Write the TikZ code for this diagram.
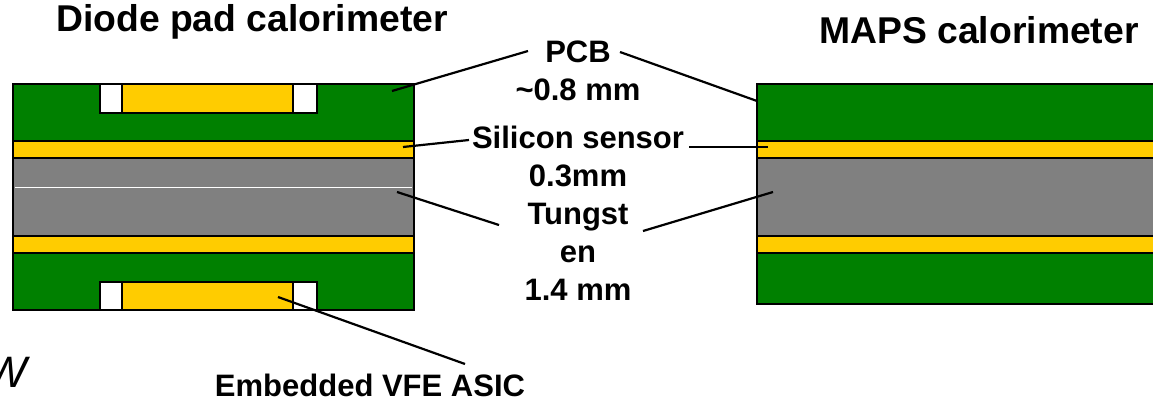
\documentclass[tikz,border=0pt]{standalone}
\usepackage{fontspec}
\setmainfont{Liberation Sans}
\definecolor{pcbgreen}{HTML}{008000}
\definecolor{siyellow}{HTML}{FFCC00}
\definecolor{wgray}{HTML}{808080}
\begin{document}
\begin{tikzpicture}[x=1pt,y=-1pt,
  layer/.style={draw=black,line width=2.4pt},
  lbl/.style={font=\fontsize{31}{38}\selectfont\bfseries,align=center,inner sep=0pt},
  ttl/.style={font=\fontsize{37.3}{44}\selectfont\bfseries,inner sep=0pt},
  leader/.style={line width=2.2pt,draw=black}]
\useasboundingbox (0,0) rectangle (1153,401);
% ---------- left stack (diode pad) ----------
\fill[pcbgreen,layer] (13,84) rectangle (414,141);
\fill[siyellow,layer] (13,141) rectangle (414,158);
\fill[wgray,layer] (13,158) rectangle (414,236);
\draw[white,line width=1pt] (15,187) -- (412,187);
\fill[siyellow,layer] (13,236) rectangle (414,253);
\fill[pcbgreen,layer] (13,253) rectangle (414,310);
% top chip
\fill[white,layer] (100,84) rectangle (122,113);
\fill[siyellow,layer] (122,84) rectangle (293,113);
\fill[white,layer] (293,84) rectangle (317,113);
% bottom chip
\fill[white,layer] (100,282) rectangle (122,310);
\fill[siyellow,layer] (122,282) rectangle (293,310);
\fill[white,layer] (293,282) rectangle (317,310);
% ---------- right stack (MAPS) ----------
\fill[pcbgreen,layer] (757,84) rectangle (1175,141);
\fill[siyellow,layer] (757,141) rectangle (1175,158);
\fill[wgray,layer] (757,158) rectangle (1175,236);
\fill[siyellow,layer] (757,236) rectangle (1175,253);
\fill[pcbgreen,layer] (757,253) rectangle (1175,304);
% ---------- titles ----------
\node[ttl] (tdiode) at (252,22) {Diode pad calorimeter};
\node[ttl] (tmaps) at (979,30) {MAPS calorimeter};
% ---------- middle labels ----------
\node[lbl] (pcb) at (578,71) {PCB\\\textasciitilde0.8 mm};
\node[lbl] (si) at (578,156) {Silicon sensor\\0.3mm};
\node[lbl] (tung) at (578,252) {Tungst\\en\\1.4 mm};
\node[lbl] (asic) at (370,385) {Embedded VFE ASIC};
\node[font=\fontsize{44}{50}\selectfont\itshape,inner sep=0pt] (w) at (6,372) {W};
% ---------- leader end points ----------
\coordinate (pcbL) at (528,51);
\coordinate (pcbR) at (620,52);
\coordinate (siL) at (469,140);
\coordinate (siR) at (689,147);
\coordinate (tuL) at (499,225);
\coordinate (tuR) at (643,231);
\coordinate (asT) at (465,364);
\coordinate (lpcb) at (392,91);
\coordinate (rpcb) at (757,101);
\coordinate (lsi) at (403,147);
\coordinate (rsi) at (768,147);
\coordinate (ltu) at (397,192);
\coordinate (rtu) at (773,192);
\coordinate (chip) at (278,297);
% ---------- leaders ----------
\draw[leader] (pcbL) -- (lpcb);
\draw[leader] (pcbR) -- (rpcb);
\draw[leader] (siL) -- (lsi);
\draw[leader] (siR) -- (rsi);
\draw[leader] (tuL) -- (ltu);
\draw[leader] (tuR) -- (rtu);
\draw[leader] (asT) -- (chip);
\end{tikzpicture}
\end{document}
